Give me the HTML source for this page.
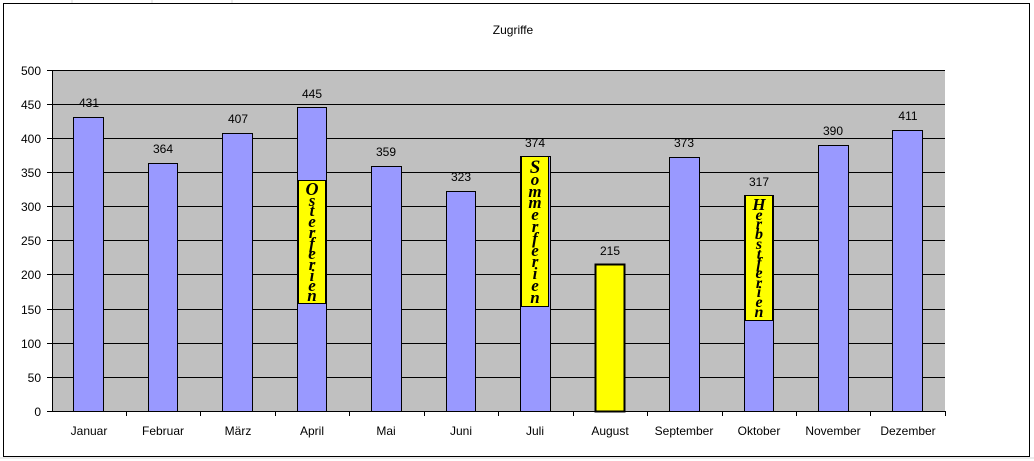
<!DOCTYPE html>
<html><head><meta charset="utf-8"><style>
body{margin:0;background:#fff;}
svg{display:block;font-family:"Liberation Sans",sans-serif;}
.l{font-family:"Liberation Serif",serif;font-weight:bold;font-style:italic;font-size:17px;text-anchor:middle;}
</style></head><body>
<svg width="1034" height="461" viewBox="0 0 1034 461">
<rect x="0" y="0" width="1034" height="461" fill="#fff"/>
<g stroke="#d8d8d8" stroke-width="1">
<line x1="72" y1="0" x2="72" y2="3"/><line x1="152" y1="0" x2="152" y2="3"/><line x1="232" y1="0" x2="232" y2="3"/>
<line x1="0" y1="458" x2="1034" y2="458"/>
</g>
<rect x="3.5" y="3.5" width="1026" height="453" fill="#fff" stroke="#000" stroke-width="1"/>
<text x="513" y="34" font-size="12" text-anchor="middle">Zugriffe</text>
<rect x="52" y="70" width="893" height="341" fill="#c0c0c0"/>
<g stroke="#000" stroke-width="1">
<line x1="47" y1="70.5" x2="945" y2="70.5"/>
<line x1="47" y1="104.5" x2="945" y2="104.5"/>
<line x1="47" y1="138.5" x2="945" y2="138.5"/>
<line x1="47" y1="172.5" x2="945" y2="172.5"/>
<line x1="47" y1="206.5" x2="945" y2="206.5"/>
<line x1="47" y1="240.5" x2="945" y2="240.5"/>
<line x1="47" y1="274.5" x2="945" y2="274.5"/>
<line x1="47" y1="309.5" x2="945" y2="309.5"/>
<line x1="47" y1="343.5" x2="945" y2="343.5"/>
<line x1="47" y1="377.5" x2="945" y2="377.5"/>
<line x1="47" y1="411.5" x2="945" y2="411.5"/>
<line x1="52.5" y1="70" x2="52.5" y2="411"/>
</g>
<g font-size="12" text-anchor="end">
<text x="41" y="75">500</text><text x="41" y="109">450</text><text x="41" y="143">400</text><text x="41" y="177">350</text>
<text x="41" y="211">300</text><text x="41" y="245">250</text><text x="41" y="279">200</text><text x="41" y="314">150</text>
<text x="41" y="348">100</text><text x="41" y="382">50</text><text x="41" y="416">0</text>
</g>
<g stroke="#000" stroke-width="1">
<line x1="126.5" y1="411" x2="126.5" y2="416"/><line x1="200.5" y1="411" x2="200.5" y2="416"/><line x1="275.5" y1="411" x2="275.5" y2="416"/>
<line x1="349.5" y1="411" x2="349.5" y2="416"/><line x1="424.5" y1="411" x2="424.5" y2="416"/><line x1="498.5" y1="411" x2="498.5" y2="416"/>
<line x1="573.5" y1="411" x2="573.5" y2="416"/><line x1="647.5" y1="411" x2="647.5" y2="416"/><line x1="722.5" y1="411" x2="722.5" y2="416"/>
<line x1="796.5" y1="411" x2="796.5" y2="416"/><line x1="870.5" y1="411" x2="870.5" y2="416"/><line x1="945.5" y1="411" x2="945.5" y2="416"/>
</g>
<g stroke="#000" stroke-width="1" fill="#9999ff">
<rect x="73.5" y="117.5" width="30" height="294"/>
<rect x="148.5" y="163.5" width="29" height="248"/>
<rect x="222.5" y="133.5" width="30" height="278"/>
<rect x="297.5" y="107.5" width="29" height="304"/>
<rect x="371.5" y="166.5" width="30" height="245"/>
<rect x="446.5" y="191.5" width="29" height="220"/>
<rect x="520.5" y="156.5" width="30" height="255"/>
<rect x="595.5" y="264.5" width="29" height="147" fill="#ffff00" stroke-width="2"/>
<rect x="669.5" y="157.5" width="30" height="254"/>
<rect x="744.5" y="195.5" width="29" height="216"/>
<rect x="818.5" y="145.5" width="30" height="266"/>
<rect x="892.5" y="130.5" width="30" height="281"/>
</g>
<g font-size="12" text-anchor="middle">
<text x="89" y="107">431</text><text x="163" y="153">364</text><text x="238" y="123">407</text><text x="312" y="98">445</text>
<text x="386" y="156">359</text><text x="461" y="181">323</text><text x="535" y="147">374</text><text x="610" y="255">215</text>
<text x="684" y="147">373</text><text x="759" y="186">317</text><text x="833" y="135">390</text><text x="908" y="120">411</text>
</g>
<g font-size="12" text-anchor="middle">
<text x="89" y="435">Januar</text><text x="163" y="435">Februar</text><text x="238" y="435">März</text><text x="312" y="435">April</text>
<text x="386" y="435">Mai</text><text x="461" y="435">Juni</text><text x="535" y="435">Juli</text><text x="610" y="435">August</text>
<text x="684" y="435">September</text><text x="759" y="435">Oktober</text><text x="833" y="435">November</text><text x="908" y="435">Dezember</text>
</g>
<g fill="#ffff00" stroke="#000" stroke-width="1">
<rect x="298.5" y="180.5" width="27" height="123"/>
<rect x="521.5" y="156.5" width="27" height="150"/>
<rect x="745.5" y="195.5" width="27" height="125"/>
</g>
<g class="l">
<text x="312" y="195" font-size="18">O</text><text x="312" y="206">s</text><text x="312" y="216">t</text><text x="312" y="227">e</text><text x="312" y="238">r</text><text x="312" y="249">f</text><text x="312" y="259">e</text><text x="312" y="270">r</text><text x="312" y="281">i</text><text x="312" y="291">e</text><text x="312" y="301">n</text>
<text x="535" y="173" font-size="19">S</text><text x="535" y="185">o</text><text x="535" y="197">m</text><text x="535" y="208">m</text><text x="535" y="220">e</text><text x="535" y="232">r</text><text x="535" y="244">f</text><text x="535" y="256">e</text><text x="535" y="267">r</text><text x="535" y="279">i</text><text x="535" y="291">e</text><text x="535" y="303">n</text>
</g>
<g class="l" style="font-size:16px">
<text x="759" y="210" font-size="17">H</text><text x="759" y="220">e</text><text x="759" y="229">r</text><text x="759" y="239">b</text><text x="759" y="249">s</text><text x="759" y="259">t</text><text x="759" y="268">f</text><text x="759" y="278">e</text><text x="759" y="288">r</text><text x="759" y="297">i</text><text x="759" y="307">e</text><text x="759" y="317">n</text>
</g>
</svg>
</body></html>
